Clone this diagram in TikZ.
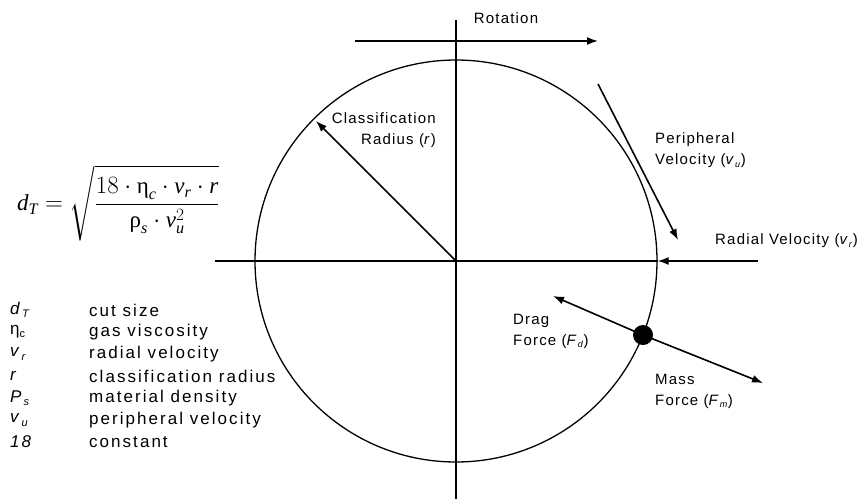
\documentclass[tikz,border=0pt]{standalone}
\usepackage{amsmath}
\usepackage{fontspec}
\setmainfont{Liberation Serif}
\newfontfamily\labfont[LetterSpace=8]{Liberation Sans}
\newfontfamily\legfont[LetterSpace=12]{Liberation Sans}
\newfontfamily\gserif{Liberation Serif}
\usetikzlibrary{arrows.meta}
\newcommand\lsub[1]{\raisebox{-0.35ex}{\fontsize{9}{9}\selectfont #1}}
\newcommand\gsub[1]{\raisebox{-0.35ex}{\fontsize{11}{11}\selectfont #1}}
\newcommand\mv[1]{\text{\gserif\itshape #1}}
\newcommand\mg[1]{\text{\gserif #1}}
\tikzset{
  lbl/.style={font=\labfont\fontsize{15}{21}\selectfont, inner sep=0pt, align=left},
  legsym/.style={font=\legfont\fontsize{17}{19}\selectfont, inner sep=0pt, anchor=west},
  legtxt/.style={font=\legfont\fontsize{17}{19}\selectfont, inner sep=0pt, anchor=west},
  arr/.style={line width=1.6pt, -{Latex[length=11pt,width=8pt]}},
  axis/.style={line width=1.4pt},
  dot/.style={circle, fill=black, inner sep=0pt, minimum size=20pt}
}
\begin{document}
\begin{tikzpicture}[x=1pt,y=-1pt]
\path[fill=white, use as bounding box] (0,0) rectangle (865,499);
% geometry
\coordinate (O) at (456,261);
\node[circle, draw, line width=1.3pt, minimum size=402pt, inner sep=0pt] (C) at (O) {};
\coordinate (vtop) at (456,20);
\coordinate (vbot) at (456,499);
\coordinate (hleft) at (215,261);
\draw[axis] (vtop) -- (vbot);
\draw[axis] (hleft) -- (C.east);
% rotation
\coordinate (rotA) at (355,41);
\coordinate (rotB) at (598,41);
\draw[arr] (rotA) -- (rotB);
\node[lbl] (rot) at (506,18) {Rotation};
% classification radius
\coordinate (rad) at (316,121);
\draw[arr] (O) -- (rad);
\node[lbl, anchor=east, align=right] (radlbl) at (436,130) {Classification\\Radius (\textit{r})};
% peripheral velocity
\coordinate (pvA) at (598,84);
\coordinate (pvB) at (678,240);
\draw[arr] (pvA) -- (pvB);
\node[lbl, anchor=west] (pvlbl) at (655,150) {Peripheral\\Velocity (\textit{v}\lsub{\textit{u}})};
% radial velocity
\coordinate (rvA) at (758,261);
\draw[arr] (rvA) -- (C.east);
\node[lbl, anchor=west] (rvlbl) at (715,241) {Radial Velocity (\textit{v}\lsub{\textit{r}})};
% particle and forces
\coordinate (P) at (643,335);
\coordinate (Fd) at (553,296);
\coordinate (Fm) at (763,383);
\draw[arr] (P) -- (Fd);
\draw[arr] (P) -- (Fm);
\node[dot] (part) at (P) {};
\node[lbl, anchor=west] (fdlbl) at (513,331) {Drag\\Force (\textit{F}\lsub{\textit{d}})};
\node[lbl, anchor=west] (fmlbl) at (655,391) {Mass\\Force (\textit{F}\lsub{\textit{m}})};
% formula
\node[anchor=west, inner sep=0pt, font=\fontsize{23}{27}\selectfont] (formula) at (17,203)
  {$\displaystyle \mv{d}_{\mv{T}}=\sqrt{\frac{18\cdot\mg{η}_{\mv{c}}\cdot \mv{v}_{\mv{r}}\cdot \mv{r}}{\mg{ρ}_{\mv{s}}\cdot \mv{v}_{\mv{u}}^{2}}}$};
% legend
\node[legsym] (s1) at (10,310) {\textit{d}\gsub{\textit{T}}};
\node[legtxt] (t1) at (89,310) {cut size};
\node[legsym] (s2) at (10,332) {η\gsub{c}};
\node[legtxt] (t2) at (89,332) {gas viscosity};
\node[legsym] (s3) at (10,354) {\textit{v}\gsub{\textit{r}}};
\node[legtxt] (t3) at (89,354) {radial velocity};
\node[legsym] (s4) at (10,376) {\textit{r}};
\node[legtxt] (t4) at (89,376) {classification radius};
\node[legsym] (s5) at (10,398) {\textit{P}\gsub{\textit{s}}};
\node[legtxt] (t5) at (89,398) {material density};
\node[legsym] (s6) at (10,420) {\textit{v}\gsub{\textit{u}}};
\node[legtxt] (t6) at (89,420) {peripheral velocity};
\node[legsym] (s7) at (10,442) {\textit{18}};
\node[legtxt] (t7) at (89,442) {constant};
\end{tikzpicture}
\end{document}
